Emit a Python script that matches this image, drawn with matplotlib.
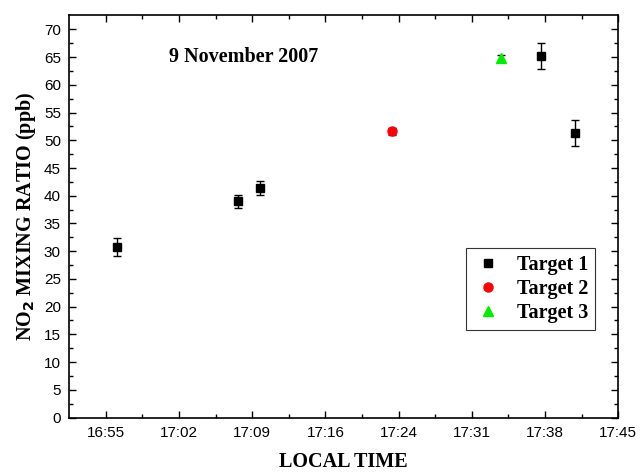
import numpy as np
import matplotlib.pyplot as plt

# times as HH:MM:SS, values in ppb
t1_times = ['16:56:06', '17:07:53', '17:10:00', '17:37:27', '17:40:46']
t1_no2 = [30.7, 39.0, 41.4, 65.2, 51.3]
t1_err = [1.6, 1.2, 1.3, 2.35, 2.3]

t2_times = ['17:22:55']
t2_no2 = [51.6]
t2_err = [0.7]

t3_times = ['17:33:32']
t3_no2 = [64.8]
t3_err = [0.6]

tick_labels = ['16:55', '17:02', '17:09', '17:16', '17:24', '17:31', '17:38', '17:45']


def to_min(times):
    # minutes after 16:00
    out = []
    for s in times:
        h, m, sec = [int(v) for v in s.split(':')]
        out.append((h - 16) * 60 + m + sec / 60.0)
    return np.array(out)


x1 = to_min(t1_times)
x2 = to_min(t2_times)
x3 = to_min(t3_times)

serif = 'Liberation Serif'
sans = 'Liberation Sans'

fig = plt.figure(figsize=(6.41, 4.73), dpi=100)
ax = fig.add_axes([0.108, 0.1173, 0.8566, 0.851])

eb = dict(fmt='none', ecolor='black', elinewidth=1, capsize=3, capthick=1)
ax.errorbar(x1, t1_no2, yerr=t1_err, **eb)
ax.errorbar(x2, t2_no2, yerr=t2_err, **eb)
ax.errorbar(x3, t3_no2, yerr=t3_err, **eb)

ax.plot(x1, t1_no2, 's', color='black', ms=6, label='Target 1', zorder=3)
ax.plot(x2, t2_no2, 'o', color='red', ms=6.5, label='Target 2', zorder=3)
ax.plot(x3, t3_no2, '^', color='#00ee00', ms=7, label='Target 3', zorder=3)

step = 50 / 7
ticks = np.linspace(55, 105, 8)
ax.set_xlim(55 - step / 2, 105)
ax.set_ylim(0, 72.6)
ax.set_xticks(ticks)
ax.set_xticklabels(tick_labels)
ax.set_xticks(ticks[:-1] + step / 2, minor=True)
ax.set_yticks(np.arange(0, 71, 5))
ax.set_yticks(np.arange(2.5, 72, 5), minor=True)

ax.tick_params(which='both', direction='in', top=True, right=True, width=1)
ax.tick_params(which='major', length=5, labelsize=11, pad=6)
ax.tick_params(which='minor', length=3)
for lab in ax.get_xticklabels() + ax.get_yticklabels():
    lab.set_fontfamily(sans)
for sp in ax.spines.values():
    sp.set_linewidth(1.2)

ax.set_xlabel('LOCAL TIME', fontfamily=serif, fontweight='bold', fontsize=14.5, labelpad=9)
ax.set_ylabel(r'NO$_\mathbf{2}$ MIXING RATIO (ppb)', fontfamily=serif, fontweight='bold',
              fontsize=14.5, labelpad=4)

ax.text(68.4, 65, '9 November 2007', fontfamily=serif, fontweight='bold', fontsize=14.5,
        ha='center', va='center')

leg = ax.legend(loc='lower right', bbox_to_anchor=(0.9575, 0.217), frameon=True, fancybox=False,
                edgecolor='black', prop={'family': serif, 'weight': 'bold', 'size': 14.5},
                handletextpad=0.65, borderpad=0.35, labelspacing=0.2, handlelength=1.5,
                borderaxespad=0)
leg.get_frame().set_linewidth(0.8)

fig.savefig('out.png', dpi=100)
